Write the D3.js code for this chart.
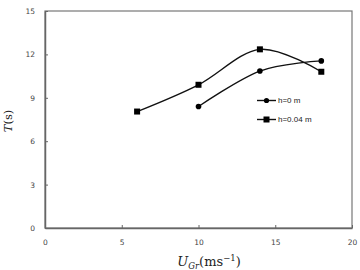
<!DOCTYPE html>
<html>
<head>
<meta charset="utf-8">
<script src="https://cdn.jsdelivr.net/npm/d3@7"></script>
<style>
  body { margin: 0; background: #fff; }
  svg { display: block; }
</style>
</head>
<body>
<div id="chart"></div>
<script>
const xTicks = [0, 5, 10, 15, 20];
const yTicks = [0, 3, 6, 9, 12, 15];

const speedH0 = [10, 14, 18];
const periodH0 = [8.4, 10.85, 11.55];

const speedH004 = [6, 10, 14, 18];
const periodH004 = [8.05, 9.9, 12.35, 10.8];

const seriesNames = ['h=0 m', 'h=0.04 m'];

const width = 360;
const height = 270;
const margin = { top: 11, right: 8, bottom: 42, left: 45 };

const svg = d3.select('#chart')
  .append('svg')
  .attr('width', width)
  .attr('height', height);

const x = d3.scaleLinear()
  .domain([0, 20])
  .range([margin.left, width - margin.right]);

const y = d3.scaleLinear()
  .domain([0, 15])
  .range([height - margin.bottom, margin.top]);

// frame
svg.append('rect')
  .attr('x', x(0))
  .attr('y', y(15))
  .attr('width', x(20) - x(0))
  .attr('height', y(0) - y(15))
  .attr('fill', 'none')
  .attr('stroke', '#777')
  .attr('stroke-width', 1.2);

const tickFont = 'DejaVu Sans, sans-serif';

const xAxis = d3.axisBottom(x)
  .tickValues(xTicks)
  .tickSizeInner(-3)
  .tickSizeOuter(0)
  .tickPadding(12);

const yAxis = d3.axisLeft(y)
  .tickValues(yTicks)
  .tickSizeInner(-3)
  .tickSizeOuter(0)
  .tickPadding(10);

const gx = svg.append('g')
  .attr('transform', `translate(0,${y(0)})`)
  .call(xAxis);

const gy = svg.append('g')
  .attr('transform', `translate(${x(0)},0)`)
  .call(yAxis);

[gx, gy].forEach(g => {
  g.select('.domain').attr('stroke', '#666').attr('stroke-width', 1.5);
  g.selectAll('.tick line').attr('stroke', '#666');
  g.selectAll('.tick text')
    .attr('font-family', tickFont)
    .attr('font-size', 7.5)
    .attr('fill', '#444');
});

const line = d3.line()
  .x(d => x(d[0]))
  .y(d => y(d[1]))
  .curve(d3.curveCardinal.tension(0));

const h0 = speedH0.map((s, i) => [s, periodH0[i]]);
const h004 = speedH004.map((s, i) => [s, periodH004[i]]);

svg.append('path')
  .datum(h0)
  .attr('d', line)
  .attr('fill', 'none')
  .attr('stroke', '#111')
  .attr('stroke-width', 1.4);

svg.append('path')
  .datum(h004)
  .attr('d', line)
  .attr('fill', 'none')
  .attr('stroke', '#111')
  .attr('stroke-width', 1.4);

svg.selectAll('.dot')
  .data(h0)
  .enter()
  .append('circle')
  .attr('class', 'dot')
  .attr('cx', d => x(d[0]))
  .attr('cy', d => y(d[1]))
  .attr('r', 2.8)
  .attr('fill', '#000');

svg.selectAll('.sq')
  .data(h004)
  .enter()
  .append('rect')
  .attr('class', 'sq')
  .attr('x', d => x(d[0]) - 3)
  .attr('y', d => y(d[1]) - 3)
  .attr('width', 6)
  .attr('height', 6)
  .attr('fill', '#000');

// legend
const legend = svg.append('g').attr('transform', 'translate(257,100.5)');
seriesNames.forEach((name, i) => {
  const g = legend.append('g').attr('transform', `translate(0,${i * 19})`);
  g.append('line')
    .attr('x1', 0).attr('x2', 19)
    .attr('stroke', '#111').attr('stroke-width', 1.4);
  if (i === 0) {
    g.append('circle').attr('cx', 9.5).attr('r', 2.6).attr('fill', '#000');
  } else {
    g.append('rect').attr('x', 6.5).attr('y', -3).attr('width', 6).attr('height', 6).attr('fill', '#000');
  }
  g.append('text')
    .attr('x', 21)
    .attr('dy', '0.35em')
    .attr('font-family', 'Liberation Sans Narrow, Liberation Sans, Arial, sans-serif')
    .attr('font-size', 8)
    .attr('fill', '#222')
    .text(name);
});

// axis titles
const xTitle = svg.append('text')
  .attr('x', 209)
  .attr('y', 266)
  .attr('text-anchor', 'middle')
  .attr('font-family', 'DejaVu Serif, Liberation Serif, serif')
  .attr('font-size', 13)
  .attr('fill', '#222');
xTitle.append('tspan').attr('font-style', 'italic').text('U');
xTitle.append('tspan').attr('font-style', 'italic').attr('font-size', 8.5).attr('dy', 3).text('Gr');
xTitle.append('tspan').attr('dy', -3).text('(ms');
xTitle.append('tspan').attr('font-size', 8.5).attr('dy', -5).text('−1');
xTitle.append('tspan').attr('dy', 5).text(')');

const yTitle = svg.append('text')
  .attr('transform', 'translate(12,121) rotate(-90)')
  .attr('text-anchor', 'middle')
  .attr('font-family', 'DejaVu Serif, Liberation Serif, serif')
  .attr('font-size', 11.5)
  .attr('fill', '#222');
yTitle.append('tspan').attr('font-style', 'italic').text('T');
yTitle.append('tspan').text('(s)');
</script>
</body>
</html>
